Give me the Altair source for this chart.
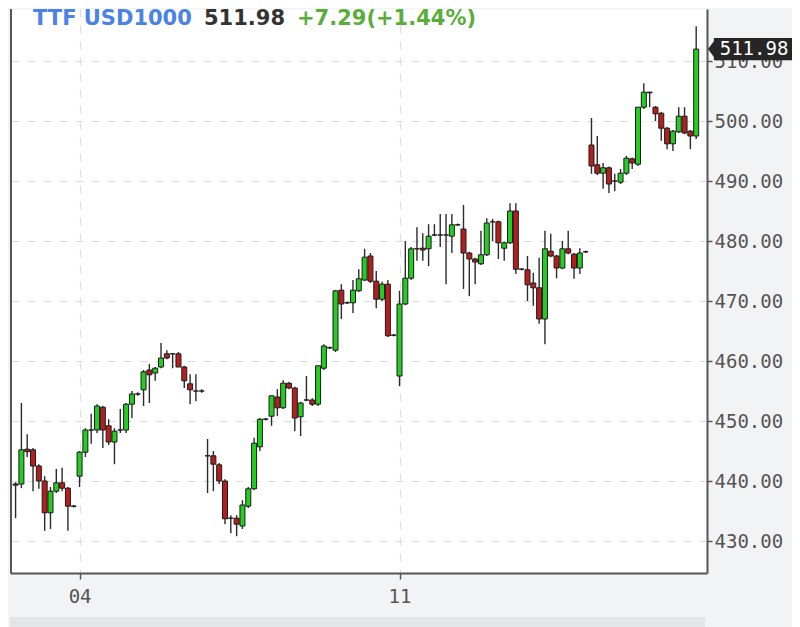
import altair as alt
import pandas as pd

# ---- data (hourly candles, weekends removed; index = trading-hour slot) ----
opens = [439.5, 439.5, 445.3, 445.2, 442.5, 440.0, 434.7, 438.3, 439.7, 438.8,
         435.8, 440.8, 444.8, 448.5, 448.5, 452.3, 449.2, 446.5, 448.5, 448.5,
         452.8, 454.5, 455.2, 458.5, 458.0, 459.0, 461.2, 461.2, 461.2, 459.0,
         456.2, 455.0, 455.0, 444.2, 444.2, 442.7, 440.0, 433.8, 433.8, 432.5,
         435.8, 438.7, 445.7, 450.3, 450.8, 454.0, 452.2, 456.3, 455.5, 450.7,
         453.5, 453.5, 452.8, 458.8, 462.2, 461.8, 471.8, 469.7, 469.7, 471.7,
         473.5, 477.5, 473.3, 470.3, 472.8, 464.3, 457.5, 469.5, 473.8, 478.7,
         478.8, 478.7, 481.0, 481.0, 481.0, 480.8, 482.7, 482.0, 478.0, 477.0,
         476.2, 477.7, 483.2, 483.2, 478.8, 479.7, 485.0, 475.3, 475.2, 473.0,
         472.2, 467.0, 478.3, 477.5, 475.5, 478.7, 477.8, 475.5, 478.2, 496.0,
         492.7, 491.3, 492.2, 490.0, 489.8, 491.3, 493.7, 492.8, 502.3, 504.8,
         502.3, 501.3, 498.8, 496.2, 498.2, 500.8, 498.3, 497.5]
highs = [439.8, 453.0, 447.8, 445.5, 442.8, 440.8, 439.0, 442.0, 442.2, 439.0,
         436.0, 445.0, 448.8, 451.2, 452.8, 452.5, 450.3, 448.8, 452.0, 453.0,
         455.0, 454.8, 458.5, 459.5, 459.0, 463.0, 461.8, 461.3, 461.5, 459.2,
         457.8, 457.8, 455.3, 447.0, 445.0, 443.0, 440.3, 434.3, 434.3, 436.8,
         439.0, 447.2, 450.5, 450.5, 454.2, 455.3, 456.8, 456.5, 455.7, 453.2,
         457.5, 453.8, 459.2, 462.8, 462.4, 471.8, 472.8, 469.9, 473.5, 475.3,
         478.7, 478.0, 475.0, 473.2, 473.5, 464.5, 471.7, 480.0, 479.0, 482.3,
         481.3, 482.8, 482.8, 484.5, 484.5, 484.5, 482.9, 486.0, 478.2, 477.2,
         481.7, 483.8, 483.7, 483.4, 479.9, 486.3, 486.3, 475.5, 477.5, 474.7,
         477.2, 481.7, 481.2, 477.7, 480.0, 481.7, 478.0, 478.8, 478.4, 500.5,
         497.5, 493.0, 492.4, 491.2, 492.0, 494.2, 493.9, 502.3, 506.3, 504.9,
         502.5, 501.5, 499.0, 498.5, 502.3, 502.3, 498.5, 515.8]
lows = [433.8, 438.8, 444.0, 438.3, 438.7, 431.7, 432.0, 438.0, 438.3, 431.7,
        435.6, 439.0, 444.0, 446.2, 448.0, 445.5, 446.0, 442.8, 448.0, 448.0,
        450.5, 454.2, 452.5, 453.0, 456.7, 458.8, 460.3, 458.8, 459.0, 455.5,
        452.8, 453.3, 454.7, 438.0, 438.3, 439.5, 432.8, 431.3, 430.8, 432.0,
        435.5, 438.5, 445.0, 450.1, 449.2, 450.8, 452.0, 455.3, 448.3, 447.5,
        453.3, 452.5, 452.5, 458.5, 462.0, 461.5, 467.0, 469.5, 468.0, 471.5,
        473.3, 473.0, 468.8, 470.0, 464.0, 464.1, 455.8, 469.3, 473.5, 476.7,
        476.7, 475.8, 480.8, 479.0, 472.8, 478.0, 482.5, 472.0, 470.8, 472.8,
        476.0, 477.5, 480.0, 477.0, 476.7, 479.5, 474.5, 475.1, 470.0, 469.2,
        466.2, 462.8, 477.3, 473.8, 475.3, 477.8, 473.7, 474.5, 478.0, 491.2,
        491.0, 488.7, 488.0, 488.3, 489.5, 491.0, 492.0, 492.5, 502.0, 502.3,
        500.0, 496.7, 495.3, 495.0, 498.0, 497.8, 495.3, 497.0]
closes = [439.3, 445.2, 444.9, 442.5, 440.0, 434.7, 438.3, 439.7, 438.8, 435.8,
          435.8, 444.8, 448.5, 448.5, 452.5, 448.5, 446.5, 448.3, 448.5, 452.8,
          454.5, 454.5, 458.2, 457.7, 458.8, 460.5, 460.5, 461.2, 459.0, 456.7,
          455.2, 455.0, 455.0, 444.2, 442.8, 440.0, 433.7, 433.8, 432.8, 436.0,
          438.7, 446.3, 450.3, 450.3, 454.2, 452.2, 456.3, 455.5, 450.5, 453.0,
          453.5, 452.8, 459.2, 462.5, 462.2, 471.7, 469.5, 469.7, 471.8, 473.7,
          477.3, 473.3, 470.3, 472.8, 464.2, 464.3, 469.5, 473.8, 478.7, 478.7,
          478.5, 480.8, 481.0, 481.0, 481.0, 482.7, 482.7, 478.0, 477.0, 476.5,
          477.7, 483.0, 483.2, 479.7, 479.7, 485.0, 475.3, 475.3, 472.7, 472.2,
          467.0, 478.7, 477.5, 475.5, 478.7, 478.0, 475.5, 478.0, 478.2, 492.5,
          491.3, 492.2, 489.5, 490.0, 491.3, 493.8, 493.0, 502.3, 504.8, 504.69,
          501.2, 498.8, 496.2, 498.3, 500.8, 498.0, 497.5, 511.98]
slots = list(range(len(closes)))

x_tick_slots = [11, 66]
x_tick_labels = ["04", "11"]
y_ticks = [430, 440, 450, 460, 470, 480, 490, 500, 510]
month_label = "Nov/2024"
symbol_text = "TTF USD1000"
price_text = "511.98"
change_text = "+7.29(+1.44%)"

df = pd.DataFrame({"i": slots, "open": opens, "high": highs,
                   "low": lows, "close": closes})
df["dir"] = ["up" if c >= o else "down" for o, c in zip(opens, closes)]

W, H = 697, 564
MONO = "DejaVu Sans Mono"
AX = "#555555"

label_expr = "''"
for v, l in reversed(list(zip(x_tick_slots, x_tick_labels))):
    label_expr = f"datum.value == {v} ? '{l}' : {label_expr}"

x_enc = alt.X("i:Q",
              scale=alt.Scale(domain=[-0.1, 118], nice=False, zero=False),
              axis=alt.Axis(values=x_tick_slots, labelExpr=label_expr, title=None,
                            grid=True, gridDash=[8, 8], gridColor="#dedede", gridWidth=1.2,
                            domainColor=AX, domainWidth=2, tickColor=AX, tickSize=6,
                            tickWidth=1.5, labelFont=MONO, labelFontSize=19,
                            labelColor=AX, labelPadding=8))
y_scale = alt.Scale(domain=[424.667, 518.667], nice=False, zero=False)
y_enc = alt.Y("low:Q", scale=y_scale,
              axis=alt.Axis(orient="right", values=y_ticks, format=".2f", title=None,
                            grid=True, gridDash=[8, 8], gridColor="#dedede", gridWidth=1.2,
                            domainColor=AX, domainWidth=2, tickColor=AX, tickSize=5,
                            tickWidth=1.5, labelFont=MONO, labelFontSize=19,
                            labelColor=AX, labelPadding=2))

base = alt.Chart(df)

wicks = base.mark_rule(color="#2b2b2b", strokeWidth=1.4, clip=True).encode(
    x=x_enc, y=y_enc, y2="high:Q")

bodies = base.mark_bar(size=5, stroke="#1c1c1c", strokeWidth=1, clip=True).encode(
    x="i:Q",
    y=alt.Y("open:Q", scale=y_scale),
    y2="close:Q",
    color=alt.Color("dir:N", scale=alt.Scale(domain=["up", "down"],
                                             range=["#24cc24", "#b51e1e"]),
                    legend=None))

left_border = base.mark_rule(color=AX, strokeWidth=2).encode(
    x=alt.value(1), y=alt.value(0), y2=alt.value(H))

tag_path = ("M-1,0 L-0.86,-0.19 L-0.86,-0.262 L1,-0.262 L1,0.262 "
            "L-0.86,0.262 L-0.86,0.19 Z")
last = base.transform_filter(f"datum.i == {slots[-1]}")
tag = last.mark_point(shape=tag_path, filled=True, fill="#262626", opacity=1,
                      size=84 * 84, strokeWidth=0).encode(
    x=alt.value(740), y=alt.Y("close:Q", scale=y_scale))
tag_text = last.mark_text(font=MONO, fontSize=19, color="white",
                          align="center", baseline="middle").encode(
    x=alt.value(744), y=alt.Y("close:Q", scale=y_scale),
    text=alt.Text("close:Q", format=".2f"))

def title_piece(txt, xpos, color):
    return alt.Chart(pd.DataFrame({"t": [txt]})).mark_text(
        font="DejaVu Sans", fontWeight="bold", fontSize=21, color=color,
        align="left", baseline="alphabetic").encode(
        x=alt.value(xpos), y=alt.value(16), text="t:N")

t1 = title_piece(symbol_text, 23, "#4a82e6")
t2 = title_piece(price_text, 194, "#333333")
t3 = title_piece(change_text, 287, "#59ad3a")

band = alt.Chart(pd.DataFrame({"t": [month_label]})).mark_rect(
    color="#e4e5e7").encode(x=alt.value(0), x2=alt.value(695),
                            y=alt.value(608), y2=alt.value(640))
band_text = alt.Chart(pd.DataFrame({"t": [month_label]})).mark_text(
    font=MONO, fontSize=19, color=AX, align="center",
    baseline="alphabetic").encode(x=alt.value(345), y=alt.value(632), text="t:N")

chart = alt.layer(band, band_text, wicks, bodies, left_border, tag, tag_text,
                  t1, t2, t3).properties(
    width=W, height=H,
    padding={"left": 2, "top": 0, "right": 0, "bottom": 0},
    background="#f2f3f5",
).configure_view(fill="white", stroke="transparent")

chart.save("out.html", embed_options={"renderer": "svg", "actions": False})
